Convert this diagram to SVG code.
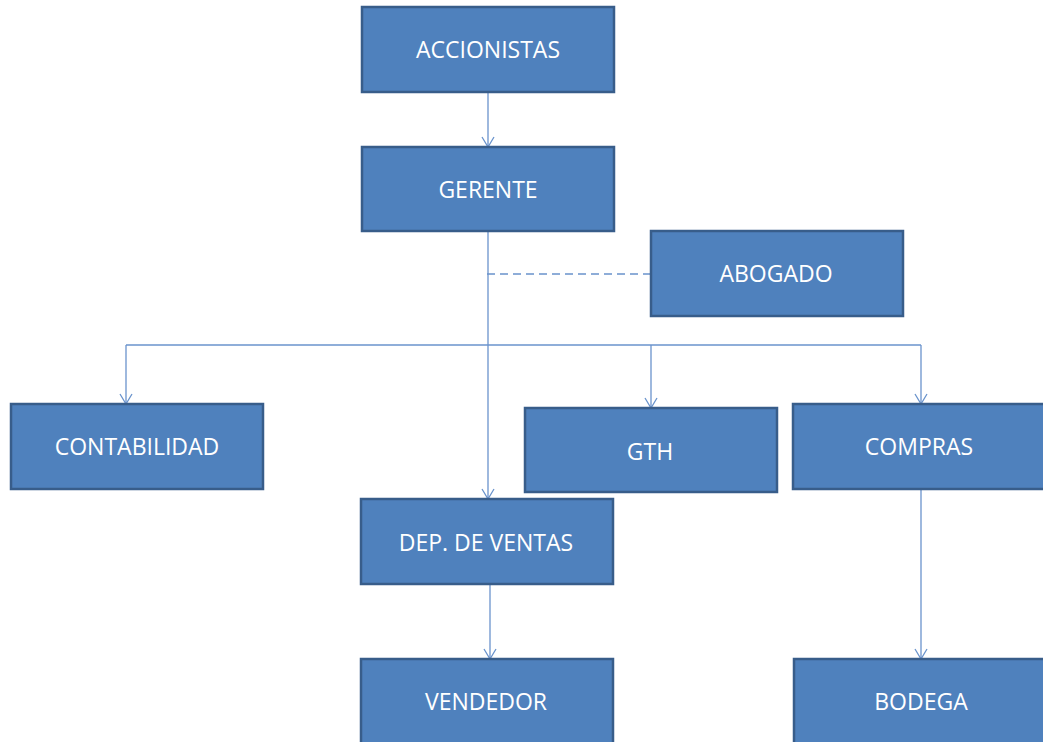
<svg xmlns="http://www.w3.org/2000/svg" width="1043" height="742" viewBox="0 0 1043 742">
<style>
.box{fill:#4F81BD;stroke:#385D8A;stroke-width:2.5}
.lbl{fill:#FFFFFF;font-family:"Open Sans","Liberation Sans",sans-serif;font-size:23px;text-anchor:middle;dominant-baseline:central}
.conn{fill:none;stroke:#6A93CC;stroke-width:1.3}
.dash{stroke-dasharray:8,5}
</style>
<defs>
<marker id="arr" viewBox="0 0 12 14" refX="11" refY="7" markerWidth="12" markerHeight="14" markerUnits="userSpaceOnUse" orient="auto">
<path d="M1,1 L11,7 L1,13" fill="none" stroke="#6A93CC" stroke-width="1.3"/>
</marker>
</defs>
<rect width="1043" height="742" fill="#FFFFFF"/>
<g id="connectors">
<line class="conn" x1="488" y1="92" x2="488" y2="147" marker-end="url(#arr)"/>
<line class="conn" x1="488" y1="231" x2="488" y2="499" marker-end="url(#arr)"/>
<line class="conn dash" x1="487" y1="274" x2="651" y2="274"/>
<line class="conn" x1="126" y1="345" x2="921" y2="345"/>
<line class="conn" x1="126" y1="345" x2="126" y2="404" marker-end="url(#arr)"/>
<line class="conn" x1="651" y1="345" x2="651" y2="408" marker-end="url(#arr)"/>
<line class="conn" x1="921" y1="345" x2="921" y2="404" marker-end="url(#arr)"/>
<line class="conn" x1="490" y1="585" x2="490" y2="659" marker-end="url(#arr)"/>
<line class="conn" x1="921" y1="489" x2="921" y2="659" marker-end="url(#arr)"/>
</g>
<g id="accionistas"><rect class="box" x="362" y="7" width="252" height="85"/><text class="lbl" x="488" y="49">ACCIONISTAS</text></g>
<g id="gerente"><rect class="box" x="362" y="147" width="252" height="84"/><text class="lbl" x="488" y="189">GERENTE</text></g>
<g id="abogado"><rect class="box" x="651" y="231" width="252" height="85"/><text class="lbl" x="776" y="273">ABOGADO</text></g>
<g id="contabilidad"><rect class="box" x="11" y="404" width="252" height="85"/><text class="lbl" x="137" y="446">CONTABILIDAD</text></g>
<g id="gth"><rect class="box" x="525" y="408" width="252" height="84"/><text class="lbl" x="650" y="451">GTH</text></g>
<g id="compras"><rect class="box" x="793" y="404" width="260" height="85"/><text class="lbl" x="919" y="446">COMPRAS</text></g>
<g id="dep-ventas"><rect class="box" x="361" y="499" width="252" height="85"/><text class="lbl" x="486" y="542">DEP. DE VENTAS</text></g>
<g id="vendedor"><rect class="box" x="361" y="659" width="252" height="95"/><text class="lbl" x="486" y="701">VENDEDOR</text></g>
<g id="bodega"><rect class="box" x="794" y="659" width="260" height="95"/><text class="lbl" x="921" y="701">BODEGA</text></g>
</svg>
